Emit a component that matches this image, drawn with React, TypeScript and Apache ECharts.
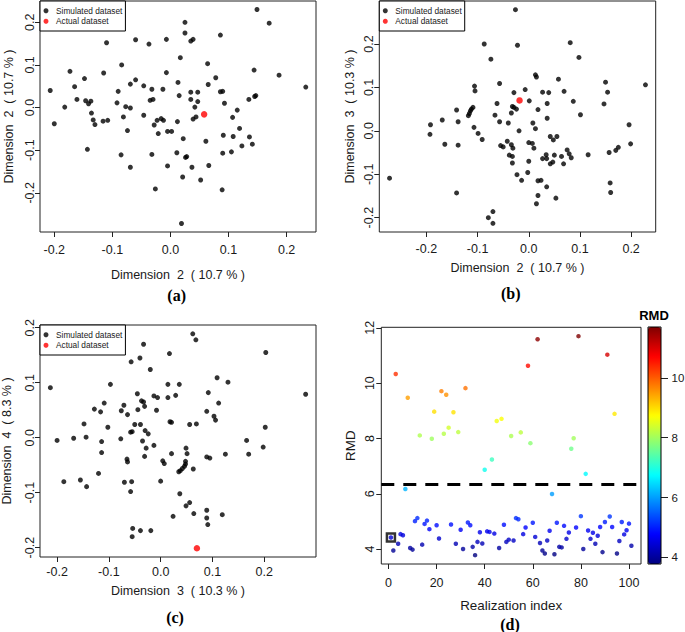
import React, { useEffect, useRef } from "react";
import * as echarts from "echarts";

// Panel (a): Dimension 2 vs Dimension 2
const simA: number[][] = [
  [0.149, 0.23], [0.17, 0.198], [0.025, 0.2], [0.025, 0.175], [0.086, 0.17], [-0.11, 0.152], [-0.06, 0.159], [-0.037, 0.149],
  [-0.007, 0.16], [0.035, 0.156], [0.039, 0.16], [0.017, 0.117], [0.064, 0.103], [-0.084, 0.1], [-0.173, 0.085], [-0.115, 0.081],
  [-0.007, 0.082], [0.144, 0.088], [0.187, 0.076], [-0.148, 0.068], [-0.06, 0.065], [-0.069, 0.055], [-0.046, 0.051], [0.013, 0.059],
  [0.078, 0.07], [0.065, 0.054], [-0.207, 0.04], [-0.165, 0.049], [-0.09, 0.038], [-0.032, 0.043], [-0.013, 0.043], [0.035, 0.036],
  [0.047, 0.036], [0.086, 0.037], [0.09, 0.038], [0.233, 0.048], [0.015, 0.028], [0.145, 0.026], [0.147, 0.028], [-0.161, 0.019],
  [-0.146, 0.016], [-0.141, 0.009], [-0.137, 0.015], [-0.182, 0.001], [-0.092, 0.011], [-0.077, 0.002], [-0.069, -0.001], [-0.035, 0.017],
  [-0.03, 0.019], [0.035, 0.019], [0.047, 0.014], [0.135, 0.019], [0.042, 0.001], [0.093, 0.01], [0.115, -0.006], [-0.136, -0.013],
  [-0.046, -0.018], [-0.081, -0.022], [-0.133, -0.029], [-0.116, -0.032], [-0.108, -0.03], [-0.13, -0.04], [-0.2, -0.038], [-0.023, -0.03],
  [-0.028, -0.041], [-0.016, -0.026], [-0.012, -0.03], [0.012, -0.033], [0.039, -0.027], [0.044, -0.022], [0.107, -0.023], [0.119, -0.049],
  [-0.074, -0.054], [-0.021, -0.061], [-0.005, -0.056], [0.002, -0.056], [0.091, -0.065], [0.108, -0.068], [0.136, -0.069], [0.022, -0.073],
  [0.061, -0.079], [0.141, -0.086], [0.123, -0.09], [-0.143, -0.098], [-0.085, -0.111], [-0.032, -0.11], [0.011, -0.106], [0.028, -0.115],
  [0.026, -0.117], [0.09, -0.107], [0.105, -0.104], [-0.069, -0.14], [-0.005, -0.137], [0.037, -0.14], [0.066, -0.136], [0.021, -0.163],
  [0.052, -0.17], [-0.026, -0.191], [0.089, -0.193], [0.019, -0.272],
];
const actualA: number[][] = [[0.058, -0.016]];

// Panel (b): Dimension 2 vs Dimension 3
const simB: number[][] = [
  [-0.026, 0.279], [-0.087, 0.2], [-0.022, 0.197], [0.081, 0.203], [-0.074, 0.165], [0.098, 0.169], [0.013, 0.129], [0.015, 0.124],
  [0.058, 0.119], [-0.057, 0.109], [0.15, 0.112], [0.228, 0.106], [-0.106, 0.103], [-0.105, 0.092], [-0.007, 0.095], [-0.029, 0.088],
  [0.027, 0.089], [0.039, 0.088], [0.069, 0.091], [0.154, 0.089], [0.001, 0.069], [-0.062, 0.063], [0.036, 0.063], [0.087, 0.068],
  [0.147, 0.062], [-0.032, 0.056], [-0.029, 0.054], [-0.024, 0.05], [-0.141, 0.048], [-0.109, 0.054], [-0.112, 0.05], [-0.114, 0.046],
  [-0.116, 0.04], [-0.118, 0.035], [0.018, 0.049], [-0.034, 0.041], [-0.066, 0.036], [0.101, 0.037], [-0.169, 0.025], [-0.138, 0.021],
  [-0.057, 0.021], [-0.192, 0.014], [0.036, 0.029], [-0.04, 0.018], [0.008, 0.018], [0.196, 0.014], [-0.107, 0.008], [0.013, 0.005],
  [-0.193, -0.008], [-0.099, -0.006], [-0.019, 0.0], [-0.091, -0.02], [0.042, -0.013], [0.055, -0.013], [0.048, -0.021], [-0.164, -0.031],
  [-0.138, -0.033], [0.0, -0.027], [0.007, -0.029], [0.01, -0.04], [0.199, -0.03], [-0.042, -0.024], [-0.055, -0.034], [-0.05, -0.037],
  [-0.034, -0.032], [-0.031, -0.04], [0.175, -0.038], [0.17, -0.045], [0.157, -0.05], [0.075, -0.044], [0.079, -0.053], [0.083, -0.062],
  [0.116, -0.055], [-0.038, -0.056], [-0.032, -0.059], [0.034, -0.055], [0.027, -0.064], [0.035, -0.064], [0.05, -0.056], [0.064, -0.059],
  [0.0, -0.07], [-0.032, -0.074], [0.042, -0.076], [0.047, -0.072], [0.068, -0.076], [-0.023, -0.101], [-0.002, -0.096], [-0.014, -0.114],
  [0.018, -0.115], [0.024, -0.114], [-0.272, -0.109], [0.159, -0.12], [0.16, -0.142], [0.035, -0.129], [-0.141, -0.143], [0.018, -0.149],
  [0.053, -0.155], [0.015, -0.168], [-0.07, -0.186], [-0.079, -0.2], [-0.07, -0.213],
];
const actualB: number[][] = [[-0.018, 0.07]];

// Panel (c): Dimension 3 vs Dimension 4
const simC: number[][] = [
  [0.062, 0.189], [0.068, 0.178], [-0.033, 0.17], [0.203, 0.155], [0.017, 0.153], [-0.057, 0.138], [-0.04, 0.145], [-0.02, 0.124],
  [0.109, 0.109], [0.13, 0.101], [-0.213, 0.091], [-0.097, 0.097], [0.014, 0.097], [0.036, 0.097], [0.28, 0.079], [-0.045, 0.08],
  [-0.013, 0.076], [-0.006, 0.073], [0.014, 0.073], [0.029, 0.077], [0.092, 0.082], [-0.037, 0.067], [-0.033, 0.065], [-0.109, 0.063],
  [0.112, 0.063], [-0.071, 0.059], [-0.031, 0.057], [-0.128, 0.052], [-0.116, 0.047], [-0.076, 0.049], [-0.044, 0.051], [-0.008, 0.05],
  [-0.064, 0.042], [0.089, 0.048], [0.103, 0.039], [0.106, 0.032], [0.018, 0.029], [0.021, 0.028], [-0.148, 0.025], [-0.05, 0.024],
  [-0.039, 0.024], [0.056, 0.024], [0.069, 0.025], [-0.102, 0.019], [-0.03, 0.013], [-0.024, 0.007], [-0.058, 0.01], [-0.055, 0.011],
  [0.202, 0.019], [-0.2, -0.005], [-0.168, -0.001], [-0.144, 0.001], [-0.114, -0.007], [-0.077, -0.002], [-0.035, -0.006], [0.166, -0.005],
  [-0.013, -0.014], [-0.028, -0.019], [0.049, -0.019], [-0.114, -0.027], [-0.031, -0.034], [0.021, -0.029], [0.051, -0.029], [0.125, -0.03],
  [0.17, -0.03], [0.198, -0.017], [-0.065, -0.039], [-0.064, -0.044], [0.004, -0.042], [0.007, -0.047], [0.048, -0.043], [0.048, -0.048],
  [0.046, -0.052], [0.042, -0.056], [0.038, -0.06], [0.035, -0.062], [0.063, -0.057], [0.089, -0.035], [0.095, -0.037], [-0.12, -0.065],
  [-0.187, -0.08], [-0.155, -0.077], [-0.143, -0.089], [-0.07, -0.081], [-0.056, -0.08], [0.0, -0.079], [-0.058, -0.098], [0.037, -0.102],
  [0.056, -0.118], [0.049, -0.124], [0.089, -0.132], [0.064, -0.138], [0.119, -0.14], [0.024, -0.143], [0.089, -0.146], [0.091, -0.158],
  [-0.054, -0.165], [-0.039, -0.169], [-0.019, -0.169], [-0.055, -0.18],
];
const actualC: number[][] = [[0.07, -0.201]];

// Panel (d): RMD per realization index (1..101), index 1 = actual dataset
const rmd: number[] = [
  4.42, 3.95, 10.33, 4.19, 4.54, 4.5, 6.17, 9.47, 4.04, 3.98,
  5.01, 5.12, 8.11, 4.16, 4.91, 5.03, 4.72, 7.99, 8.97, 4.86,
  4.38, 9.71, 8.17, 9.58, 8.39, 4.89, 8.95, 4.19, 8.23, 4.7,
  4.0, 9.82, 4.96, 4.86, 4.08, 3.78, 4.26, 4.61, 4.2, 6.87,
  4.64, 4.62, 7.24, 4.56, 8.63, 4.04, 8.71, 4.88, 4.26, 4.34,
  8.09, 4.31, 5.12, 5.08, 8.22, 4.54, 4.78, 10.63, 7.83, 4.95,
  4.44, 11.59, 4.22, 3.95, 3.84, 4.31, 4.66, 5.99, 3.81, 4.95,
  4.08, 4.06, 4.84, 4.37, 4.6, 7.63, 8.01, 4.78, 11.7, 5.19,
  4.0, 6.72, 4.67, 4.37, 4.59, 4.19, 4.48, 4.8, 3.89, 4.98,
  11.03, 5.18, 4.8, 8.89, 3.84, 4.29, 4.98, 4.53, 4.68, 4.92,
  4.12,
];
const actualIndex = 1;
const threshold = 6.35;

const dimTicks = [-0.2, -0.1, 0, 0.1, 0.2];
const idxTicks = [0, 20, 40, 60, 80, 100];
const rmdTicks = [4, 6, 8, 10, 12];
const barTicks = [4, 6, 8, 10];
const jet = ["#00007F", "#0000FF", "#007FFF", "#00FFFF", "#7FFF7F", "#FFFF00", "#FF7F00", "#FF0000", "#7F0000"];

const FONT = "Liberation Sans";
const TXT = "#1a1a1a";

function axis(o: any) {
  const isY = o.dim === "y";
  return {
    type: "value",
    gridIndex: o.grid,
    min: o.min,
    max: o.max,
    position: o.position,
    name: o.name,
    nameLocation: "middle",
    nameGap: o.nameGap,
    nameRotate: isY ? 90 : 0,
    nameTextStyle: { fontFamily: FONT, fontSize: o.nameSize || 12.5, color: TXT },
    axisLine: { show: false, onZero: false },
    axisTick: { show: true, inside: false, length: o.tickLen || 5, customValues: o.ticks, lineStyle: { color: "#222", width: 1 } },
    axisLabel: {
      show: true,
      customValues: o.ticks,
      formatter: o.fmt,
      rotate: o.rotate || 0,
      margin: o.margin,
      fontFamily: FONT,
      fontSize: o.labelSize || 12.5,
      color: TXT,
    },
    splitLine: { show: false },
  };
}

const f1 = (v: number) => v.toFixed(1);
const f0 = (v: number) => String(Math.round(v));

function legendAt(left: number, top: number) {
  return {
    show: true,
    left,
    top,
    orient: "vertical",
    selectedMode: false,
    data: ["Simulated dataset", "Actual dataset"],
    icon: "circle",
    itemWidth: 5,
    itemHeight: 9.5,
    itemGap: 1,
    padding: [5, 3, 5, 3.5],
    borderColor: "#000",
    borderWidth: 1,
    borderRadius: 0,
    backgroundColor: "#fff",
    textStyle: { fontFamily: FONT, fontSize: 8.3, lineHeight: 9.5, color: TXT, padding: [0, 0, 0, 2.5] },
  };
}

const gridBox = { show: true, borderColor: "#222", borderWidth: 1, backgroundColor: "transparent", containLabel: false, outerBoundsMode: "none" };

export default function App() {
  const ref = useRef<HTMLDivElement>(null);
  useEffect(() => {
    const chart = echarts.init(ref.current!, null, { renderer: "svg" });
    const rmdMin = Math.min(...rmd);
    const rmdMax = Math.max(...rmd);
    const option: any = {
      animation: false,
      textStyle: { fontFamily: FONT },
      grid: [
        { ...gridBox, left: 40, top: 1, width: 276, height: 231 },
        { ...gridBox, left: 379.3, top: 1, width: 276.4, height: 231 },
        { ...gridBox, left: 40, top: 325, width: 276, height: 232 },
        { ...gridBox, left: 381.3, top: 327.3, width: 259.7, height: 236.7 },
        { ...gridBox, left: 648, top: 327, width: 13, height: 237, z: 10, borderColor: "#000" },
      ],
      xAxis: [
        axis({ grid: 0, min: -0.2246, max: 0.2506, ticks: dimTicks, fmt: f1, name: "Dimension  2  ( 10.7 % )", nameGap: 36, margin: 11 }),
        axis({ grid: 1, min: -0.292, max: 0.248, ticks: dimTicks, fmt: f1, name: "Dimension  2  ( 10.7 % )", nameGap: 29.5, margin: 10.5 }),
        axis({ grid: 2, min: -0.233, max: 0.3, ticks: dimTicks, fmt: f1, name: "Dimension  3  ( 10.3 % )", nameGap: 27, margin: 8 }),
        axis({ grid: 3, min: -3, max: 105, ticks: idxTicks, fmt: f0, name: "Realization index", nameGap: 35, margin: 12.5, nameSize: 13.4, labelSize: 12.5 }),
        { type: "value", gridIndex: 4, min: 0, max: 1, show: false },
      ],
      yAxis: [
        axis({ dim: "y", grid: 0, min: -0.292, max: 0.25, ticks: dimTicks, fmt: f1, name: "Dimension  2  ( 10.7 % )", nameGap: 24.5, margin: 4, rotate: 90 }),
        axis({ dim: "y", grid: 1, min: -0.233, max: 0.299, ticks: dimTicks, fmt: f1, name: "Dimension  3  ( 10.3 % )", nameGap: 22.5, margin: 4, rotate: 90 }),
        axis({ dim: "y", grid: 2, min: -0.217, max: 0.205, ticks: dimTicks, fmt: f1, name: "Dimension  4  ( 8.3 % )", nameGap: 26.5, margin: 4, rotate: 90 }),
        axis({ dim: "y", grid: 3, min: 3.46, max: 12.02, ticks: rmdTicks, fmt: f0, name: "RMD", nameGap: 24, margin: 5, rotate: 90, nameSize: 13.4 }),
        axis({ dim: "y", grid: 4, min: rmdMin, max: rmdMax, ticks: barTicks, fmt: f0, position: "right", margin: 10.5, tickLen: 7, labelSize: 11.5 }),
      ],
      legend: [legendAt(40, 1), legendAt(379.3, 1), legendAt(40, 325)],
      visualMap: {
        type: "continuous",
        show: true,
        seriesIndex: 6,
        dimension: 1,
        min: rmdMin,
        max: rmdMax,
        inRange: { color: jet },
        calculable: false,
        hoverLink: false,
        orient: "vertical",
        left: 648,
        top: 327,
        itemWidth: 13,
        itemHeight: 237,
        padding: 0,
        textStyle: { color: "transparent" },
      },
      series: [
        { type: "scatter", name: "Simulated dataset", xAxisIndex: 0, yAxisIndex: 0, data: simA, symbolSize: 5, itemStyle: { color: "#000" }, silent: true },
        { type: "scatter", name: "Actual dataset", xAxisIndex: 0, yAxisIndex: 0, data: actualA, symbolSize: 6.5, itemStyle: { color: "#FF0000" }, silent: true },
        { type: "scatter", name: "Simulated dataset", xAxisIndex: 1, yAxisIndex: 1, data: simB, symbolSize: 5, itemStyle: { color: "#000" }, silent: true },
        { type: "scatter", name: "Actual dataset", xAxisIndex: 1, yAxisIndex: 1, data: actualB, symbolSize: 6.5, itemStyle: { color: "#FF0000" }, silent: true },
        { type: "scatter", name: "Simulated dataset", xAxisIndex: 2, yAxisIndex: 2, data: simC, symbolSize: 5, itemStyle: { color: "#000" }, silent: true },
        { type: "scatter", name: "Actual dataset", xAxisIndex: 2, yAxisIndex: 2, data: actualC, symbolSize: 6.5, itemStyle: { color: "#FF0000" }, silent: true },
        {
          type: "scatter",
          name: "RMD",
          xAxisIndex: 3,
          yAxisIndex: 3,
          data: rmd.map((v, i) => [i + 1, v]),
          symbolSize: 4.5,
          silent: true,
          markLine: {
            silent: true,
            symbol: ["none", "none"],
            label: { show: false },
            lineStyle: { color: "#000", width: 3, type: [13, 9] },
            data: [{ yAxis: threshold }],
          },
        },
        {
          type: "scatter",
          name: "actual-marker",
          xAxisIndex: 3,
          yAxisIndex: 3,
          data: [[actualIndex, rmd[actualIndex - 1]]],
          symbol: "rect",
          symbolSize: 8,
          silent: true,
          itemStyle: { color: "transparent", borderColor: "#000", borderWidth: 2.5 },
          z: 3,
        },
      ],
      graphic: [
        { type: "text", x: 176.7, y: 295, style: { text: "(a)", font: 'bold 16px "Liberation Serif"', fill: "#000", align: "center", verticalAlign: "middle", textAlign: "center", textVerticalAlign: "middle" } },
        { type: "text", x: 510.7, y: 293, style: { text: "(b)", font: 'bold 16px "Liberation Serif"', fill: "#000", align: "center", verticalAlign: "middle", textAlign: "center", textVerticalAlign: "middle" } },
        { type: "text", x: 175, y: 617, style: { text: "(c)", font: 'bold 16px "Liberation Serif"', fill: "#000", align: "center", verticalAlign: "middle", textAlign: "center", textVerticalAlign: "middle" } },
        { type: "text", x: 510, y: 624, style: { text: "(d)", font: 'bold 16px "Liberation Serif"', fill: "#000", align: "center", verticalAlign: "middle", textAlign: "center", textVerticalAlign: "middle" } },
        { type: "text", x: 654, y: 315, style: { text: "RMD", font: 'bold 13px "Liberation Sans"', fill: "#000", align: "center", verticalAlign: "middle", textAlign: "center", textVerticalAlign: "middle" } },
      ],
    };
    chart.setOption(option);
    return () => chart.dispose();
  }, []);
  return <div ref={ref} style={{ position: "fixed", left: 0, top: 0, width: 685, height: 632, background: "#fff" }} />;
}
